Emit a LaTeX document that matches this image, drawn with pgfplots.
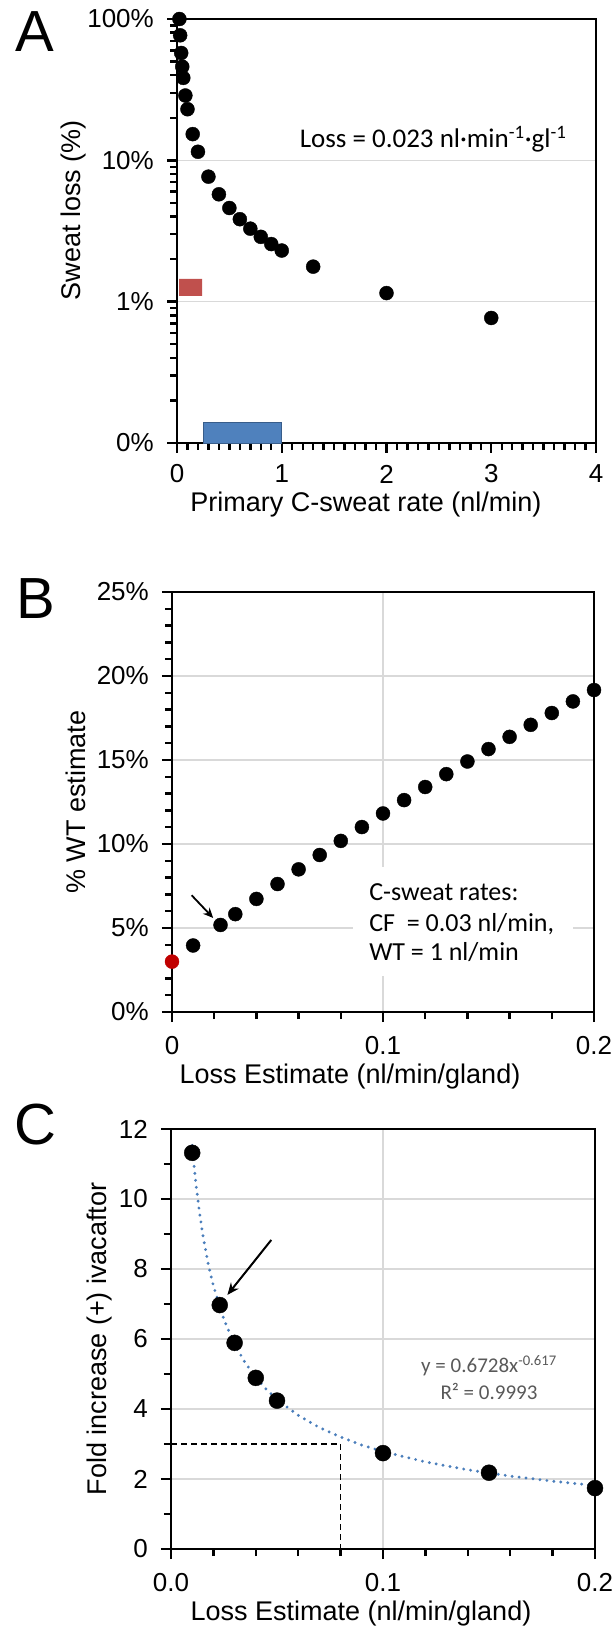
\documentclass[border=0pt]{standalone}
\usepackage{fontspec}
\setmainfont{Liberation Sans}
\newfontfamily\calibri{Carlito}
\usepackage{pgfplots}
\pgfplotsset{compat=1.18}
\usetikzlibrary{arrows.meta}
\definecolor{gridgray}{HTML}{D9D9D9}
\definecolor{xlred}{HTML}{C0504D}
\definecolor{xlblue}{HTML}{4F81BD}
\definecolor{xlbluedark}{HTML}{385D8A}
\definecolor{ptred}{HTML}{C00000}
\definecolor{trend}{HTML}{4A7EBB}
\definecolor{eqgray}{HTML}{595959}
\newcommand{\tickf}{\fontsize{26bp}{30bp}\selectfont}
\newcommand{\labf}{\fontsize{27bp}{32bp}\selectfont}
\newcommand{\letf}{\fontsize{58bp}{64bp}\selectfont}
\pgfplotsset{
  xlstyle/.style={
    scale only axis, anchor=north west, clip=false,
    axis line style={line width=2.8bp, black},
    every outer x axis line/.append style={line width=2.8bp},
    every outer y axis line/.append style={line width=2.8bp},
    xtick pos=left, ytick pos=left, tick align=outside,
    major tick length=10bp, minor tick length=7bp,
    every tick/.append style={draw=black, line width=2.4bp},
    every major tick/.append style={draw=black, line width=2.4bp},
    every minor tick/.append style={draw=black, line width=2.4bp},
    tick label style={font=\tickf},
    /pgf/number format/assume math mode=true,
    xticklabel style={anchor=center},
    yticklabel style={anchor=east, inner sep=0pt, xshift=-13bp},
    major grid style={gridgray, line width=1.5bp},
  },
  dot/.style={only marks, mark=*, mark size=7bp, mark options={fill=black, draw=black}},
}
\begin{document}
\begin{tikzpicture}
\path[use as bounding box] (0bp,0bp) rectangle (616bp,-1627bp);

% ---------------- Panel A ----------------
\begin{axis}[xlstyle, at={(177bp,-19bp)}, width=419bp, height=424bp,
  xmin=0, xmax=4, ymin=0.1, ymax=100, ymode=log,
  xtick={0,1,2,3,4}, xticklabels={0,1,2,3,4}, minor x tick num=9,
  ytick={0.1,1,10,100}, yticklabels={0\%,1\%,10\%,100\%},
  minor ytick={0.2,0.3,0.4,0.5,0.6,0.7,0.8,0.9,2,3,4,5,6,7,8,9,20,30,40,50,60,70,80,90},
  ymajorgrids, xticklabel style={yshift=-21bp}]
\addplot[fill=xlred, draw=none, forget plot] coordinates {(0.02,1.1) (0.24,1.1) (0.24,1.45) (0.02,1.45) (0.02,1.1)};
\addplot[fill=xlblue, draw=xlbluedark, line width=0.8bp, forget plot] coordinates {(0.25,0.1) (1.0,0.1) (1.0,0.139) (0.25,0.139) (0.25,0.1)};
\addplot[dot] coordinates {
(0.023,100) (0.03,76.67) (0.04,57.5) (0.05,46) (0.06,38.33) (0.08,28.75)
(0.1,23) (0.15,15.33) (0.2,11.5) (0.3,7.667) (0.4,5.75) (0.5,4.6)
(0.6,3.833) (0.7,3.286) (0.8,2.875) (0.9,2.556) (1.0,2.3) (1.3,1.769)
(2,1.15) (3,0.767)};
\node[anchor=base west, inner sep=0pt, font=\calibri\fontsize{27bp}{32bp}\selectfont] at (axis cs:1.17,12.4) {Loss = 0.023 nl·min\textsuperscript{-1}·gl\textsuperscript{-1}};
\end{axis}

% ---------------- Panel B ----------------
\begin{axis}[xlstyle, at={(172bp,-592bp)}, width=422bp, height=420bp,
  xmin=0, xmax=0.2, ymin=0, ymax=25,
  xtick={0,0.1,0.2}, xticklabels={0,0.1,0.2}, minor x tick num=4,
  ytick={0,5,10,15,20,25}, yticklabels={0\%,5\%,10\%,15\%,20\%,25\%}, minor y tick num=4,
  xmajorgrids, ymajorgrids, xticklabel style={yshift=-24bp}]
\fill[white] (axis cs:0.0858,8.63) rectangle (axis cs:0.190,2.14);
\node[anchor=base west, inner sep=0pt, font=\calibri\fontsize{26bp}{31bp}\selectfont] at (axis cs:0.0934,6.61) {C-sweat rates:};
\node[anchor=base west, inner sep=0pt, font=\calibri\fontsize{26bp}{31bp}\selectfont] at (axis cs:0.0934,4.82) {CF\ \ = 0.03 nl/min,};
\node[anchor=base west, inner sep=0pt, font=\calibri\fontsize{26bp}{31bp}\selectfont] at (axis cs:0.0934,3.04) {WT = 1 nl/min};
\addplot[dot] coordinates {
(0.01,3.960) (0.023,5.181) (0.03,5.825) (0.04,6.731) (0.05,7.619) (0.06,8.491)
(0.07,9.346) (0.08,10.185) (0.09,11.009) (0.10,11.818) (0.11,12.613) (0.12,13.393)
(0.13,14.159) (0.14,14.912) (0.15,15.652) (0.16,16.379) (0.17,17.094) (0.18,17.797)
(0.19,18.487) (0.20,19.167)};
\addplot[dot, mark options={fill=ptred, draw=ptred}] coordinates {(0,3.0)};
\draw[-{Stealth[length=10bp,width=9bp]}, line width=1.8bp] (axis cs:0.0093,6.95) -- (axis cs:0.0195,5.6);
\end{axis}

% ---------------- Panel C ----------------
\begin{axis}[xlstyle, at={(171bp,-1129bp)}, width=424bp, height=420bp,
  xmin=0, xmax=0.2, ymin=0, ymax=12,
  xtick={0,0.1,0.2}, xticklabels={0.0,0.1,0.2}, minor x tick num=4,
  ytick={0,2,4,6,8,10,12}, yticklabels={0,2,4,6,8,10,12}, minor y tick num=1,
  xmajorgrids, ymajorgrids, xticklabel style={yshift=-24bp}]
\addplot[black, line width=1.6bp, dash pattern=on 6bp off 4bp] coordinates {(0,3.0) (0.08,3.0) (0.08,0)};
\addplot[dot, mark size=8bp] coordinates {
(0.01,11.32) (0.023,6.97) (0.03,5.89) (0.04,4.89) (0.05,4.24) (0.1,2.74) (0.15,2.18) (0.2,1.74)};
\addplot[trend, line width=3.2bp, line cap=round, dash pattern=on 0bp off 7bp] coordinates {
(0.010,11.53) (0.011,10.87) (0.012,10.31) (0.0135,9.59) (0.015,8.98) (0.0175,8.16) (0.020,7.52)
(0.025,6.55) (0.030,5.85) (0.035,5.32) (0.040,4.90) (0.045,4.56) (0.050,4.27) (0.060,3.82)
(0.070,3.47) (0.080,3.20) (0.090,2.97) (0.100,2.785) (0.120,2.489) (0.140,2.263)
(0.160,2.084) (0.180,1.938) (0.200,1.816)};
\draw[-{Stealth[length=12bp,width=10bp]}, line width=2bp] (axis cs:0.0473,8.83) -- (axis cs:0.0266,7.26);
\node[anchor=base, inner sep=0pt, text=eqgray, font=\calibri\fontsize{21bp}{25bp}\selectfont] at (axis cs:0.150,5.03) {y = 0.6728x\textsuperscript{-0.617}};
\node[anchor=base, inner sep=0pt, text=eqgray, font=\calibri\fontsize{21bp}{25bp}\selectfont] at (axis cs:0.150,4.26) {R² = 0.9993};
\end{axis}

% ---------------- Labels ----------------
\node[inner sep=0pt, font=\letf] at (34.5bp,-31.5bp) {A};
\node[inner sep=0pt, font=\letf] at (35.5bp,-598.5bp) {B};
\node[inner sep=0pt, font=\letf] at (35.5bp,-1124.5bp) {C};
\node[inner sep=0pt, font=\labf, rotate=90] at (74bp,-210bp) {Sweat loss (\%)};
\node[inner sep=0pt, font=\labf] at (366bp,-505bp) {Primary C-sweat rate (nl/min)};
\node[inner sep=0pt, font=\labf, rotate=90] at (76bp,-802bp) {\% WT estimate};
\node[inner sep=0pt, font=\labf] at (350bp,-1077bp) {Loss Estimate (nl/min/gland)};
\node[inner sep=0pt, font=\labf, rotate=90] at (100bp,-1339bp) {Fold increase (+) ivacaftor};
\node[inner sep=0pt, font=\labf] at (361bp,-1613bp) {Loss Estimate (nl/min/gland)};
\end{tikzpicture}
\end{document}
